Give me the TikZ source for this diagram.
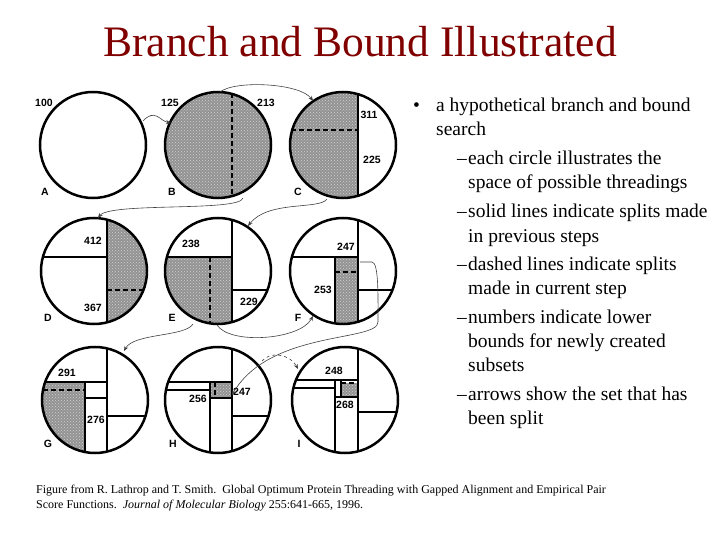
\documentclass[tikz,border=0pt]{standalone}
\usepackage{fontspec}
\setmainfont{Liberation Serif}
\newfontfamily\arialb{Liberation Sans}
\usetikzlibrary{patterns,arrows.meta}
\definecolor{titlered}{RGB}{128,0,0}
\tikzset{
 shd/.style={fill=gray!85,postaction={pattern=crosshatch dots,pattern color=gray!35}},
 sl/.style={line width=1.6pt},
 dl/.style={line width=1.6pt,dash pattern=on 5pt off 3pt},
 ring/.style={circle,draw,line width=2.5pt,minimum size=106pt,inner sep=0pt},
 num/.style={font=\arialb\bfseries\fontsize{10.5}{11}\selectfont,inner sep=0pt},
 arr/.style={line width=0.6pt,draw=black!75,-{Stealth[length=5pt,width=4pt]}},
 txt/.style={anchor=base west,inner sep=0pt,font=\fontsize{19.5}{22}\selectfont},
 captxt/.style={anchor=west,inner sep=0pt,font=\fontsize{12}{13}\selectfont}
}
\begin{document}
\begin{tikzpicture}[x=1pt,y=-1pt]
\useasboundingbox (0,0) rectangle (720,540);
\node[font=\fontsize{43.5}{46}\selectfont,text=titlered] (title) at (360,42) {Branch and Bound Illustrated};
% interiors
\begin{scope}[shift={(218,145)}]\clip (0,0) circle (53);
 \fill[shd] (-60,-60) rectangle (60,60); \draw[dl] (14,-60)--(14,60);\end{scope}
\begin{scope}[shift={(343,145)}]\clip (0,0) circle (53);
 \fill[shd] (-60,-60) rectangle (15,60); \draw[sl] (15,-60)--(15,60); \draw[dl] (-60,-15)--(15,-15);\end{scope}
\begin{scope}[shift={(94,271)}]\clip (0,0) circle (53);
 \fill[shd] (13,-60) rectangle (60,60); \draw[sl] (13,-60)--(13,60); \draw[sl] (-60,-14)--(13,-14); \draw[dl] (13,19)--(60,19);\end{scope}
\begin{scope}[shift={(218,271)}]\clip (0,0) circle (53);
 \fill[shd] (-60,-14) rectangle (14,60); \draw[sl] (14,-60)--(14,60); \draw[sl] (-60,-14)--(14,-14); \draw[sl] (14,19)--(60,19); \draw[dl] (-8,-14)--(-8,60);\end{scope}
\begin{scope}[shift={(343,271)}]\clip (0,0) circle (53);
 \fill[shd] (-8,-14) rectangle (15,60); \draw[sl] (15,-60)--(15,60); \draw[sl] (-60,-14)--(15,-14); \draw[sl] (-8,-14)--(-8,60); \draw[sl] (15,19)--(60,19); \draw[dl] (-8,1)--(15,1);\end{scope}
\begin{scope}[shift={(95,400)}]\clip (0,0) circle (53);
 \fill[shd] (-60,-18) rectangle (-10,60); \draw[sl] (12,-60)--(12,60); \draw[sl] (12,16)--(60,16); \draw[sl] (-60,-18)--(12,-18); \draw[sl] (-10,-18)--(-10,60); \draw[sl] (-10,-2)--(12,-2); \draw[dl] (-60,-10)--(-10,-10);\end{scope}
\begin{scope}[shift={(218,400)}]\clip (0,0) circle (53);
 \fill[shd] (-8,-18) rectangle (14,-2); \draw[sl] (14,-60)--(14,60); \draw[sl] (14,16)--(60,16); \draw[sl] (-60,-18)--(14,-18); \draw[sl] (-60,-10)--(-8,-10); \draw[sl] (-8,-18)--(-8,60); \draw[sl] (-8,-2)--(14,-2); \draw[dl] (-3,-18)--(-3,-2);\end{scope}
\begin{scope}[shift={(345,400)}]\clip (0,0) circle (53);
 \fill[shd] (-4,-17) rectangle (13,-3); \draw[sl] (13,-60)--(13,60); \draw[sl] (13,12)--(60,12); \draw[sl] (-60,-20)--(13,-20); \draw[sl] (-60,-12)--(-10,-12); \draw[sl] (-10,-20)--(-10,60); \draw[sl] (-4,-20)--(-4,-3); \draw[sl] (-10,-3)--(13,-3); \draw[dl] (-4,-17)--(13,-17);\end{scope}
% circles
\node[ring] (cA) at (93,145) {};
\node[ring] (cB) at (218,145) {};
\node[ring] (cC) at (343,145) {};
\node[ring] (cD) at (94,271) {};
\node[ring] (cE) at (218,271) {};
\node[ring] (cF) at (343,271) {};
\node[ring] (cG) at (95,400) {};
\node[ring] (cH) at (218,400) {};
\node[ring] (cI) at (345,400) {};
% labels
\foreach \n/\t/\x/\y in {a/100/44/103,b/125/170/103,c/213/266/103,d/311/369/115,e/225/372/160,f/412/93/241,g/367/93/308,h/238/191/244,i/229/249/302,j/247/346/247,k/253/323/290,l/291/67/373,m/276/96/420,n/256/198/399,o/247/242/392,p/248/334/371,q/268/345/405}
 \node[num] (n\n) at (\x,\y) {\t};
\foreach \t/\x/\y in {A/45/192,B/172/192,C/298/192,D/48/318,E/172/318,F/298/318,G/48/444,H/173/444,I/299/444}
 \node[num] (L\t) at (\x,\y) {\t};
% arrows
\coordinate (a1) at (143,121); \coordinate (b1) at (171,123);
\draw[arr] (a1) .. controls (155,108) and (160,121) .. (b1);
\coordinate (a2) at (220,92); \coordinate (b2) at (313,101);
\draw[arr] (a2) .. controls (235,80) and (300,83) .. (b2);
\coordinate (a3) at (243,198); \coordinate (b3) at (98,218);
\draw[arr] (a3) .. controls (240,212) and (110,202) .. (b3);
\coordinate (a4) at (327,199); \coordinate (b4) at (248,226);
\draw[arr] (a4) .. controls (320,210) and (268,200) .. (b4);
\coordinate (a5) at (193,324); \coordinate (b5) at (124,351);
\draw[arr] (a5) .. controls (185,337) and (134,333) .. (b5);
\coordinate (a6) at (217,325); \coordinate (b6) at (313,316);
\draw[arr] (a6) .. controls (230,345) and (300,340) .. (b6);
\coordinate (a7) at (360,262); \coordinate (b7) at (232,395);
\draw[arr] (a7) -- (372,262) .. controls (379,262) and (378,300) .. (378,322) .. controls (378,342) and (270,330) .. (b7);
\coordinate (a8) at (262,361); \coordinate (b8) at (298,369);
\draw[arr,dashed] (a8) .. controls (270,351) and (290,354) .. (b8);
% text
\node[txt] (bul) at (413,112) {•};
\node[txt] (t1) at (436,112) {a hypothetical branch and bound};
\node[txt] (t2) at (436,136) {search};
\foreach \n/\y in {d1/165,d2/218,d3/270,d4/323,d5/400} \node[txt,anchor=base] (\n) at (462,\y) {–};
\foreach \n/\t/\y in {s1/each circle illustrates the/165,s2/space of possible threadings/189,s3/solid lines indicate splits made/218,s4/in previous steps/242,s5/dashed lines indicate splits/270,s6/made in current step/294,s7/numbers indicate lower/323,s8/bounds for newly created/347,s9/subsets/371,s10/arrows show the set that has/400,s11/been split/424}
 \node[txt] (\n) at (468,\y) {\t};
\node[captxt] (c1) at (36,491) {Figure from R. Lathrop and T. Smith.\ \ Global Optimum Protein Threading with Gapped Alignment and Empirical Pair};
\node[captxt] (c2) at (36,506) {Score Functions.\ \ \textit{Journal of Molecular Biology} 255:641-665, 1996.};
\end{tikzpicture}
\end{document}
